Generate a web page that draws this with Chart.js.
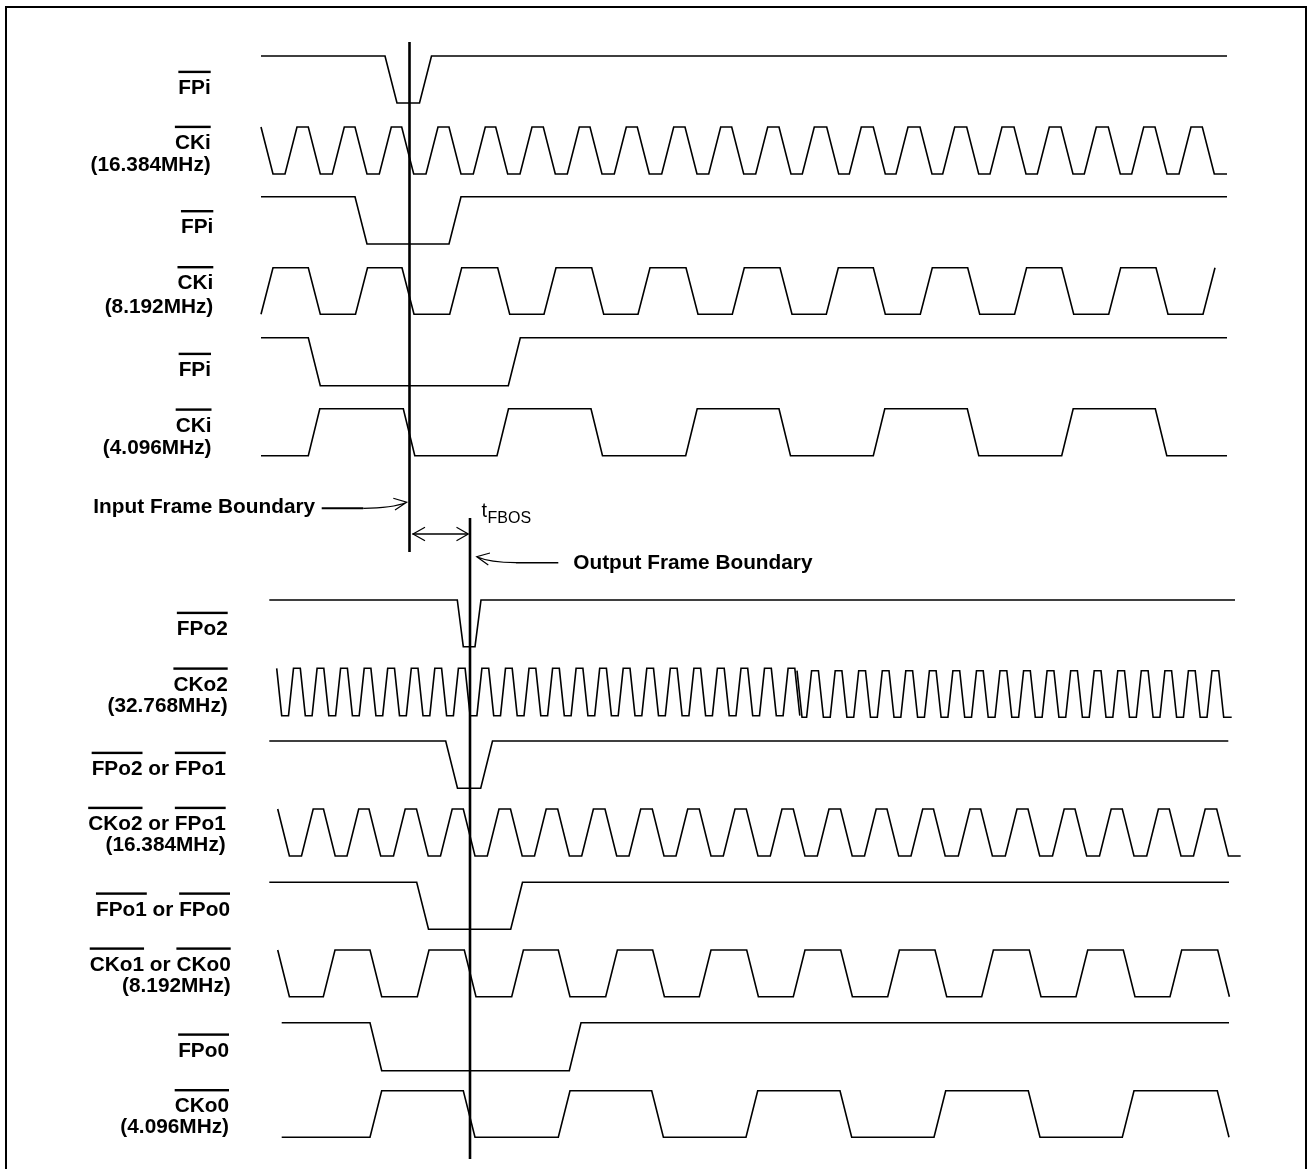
<!DOCTYPE html>
<html>
<head>
<meta charset="utf-8">
<title>Frame boundary timing</title>
<script src="https://cdn.jsdelivr.net/npm/chart.js@4.4.0/dist/chart.umd.min.js"></script>
<style>
  html, body { margin: 0; padding: 0; background: #fff; }
  #wrap { width: 1307px; height: 1169px; }
</style>
</head>
<body>
<div id="wrap"><canvas id="timing" width="1307" height="1169"></canvas></div>
<script>
// Row labels, top to bottom
const signalNames = ['FPi', 'CKi', 'FPi', 'CKi', 'FPi', 'CKi',
    'FPo2', 'CKo2', 'FPo2 or FPo1', 'CKo2 or FPo1', 'FPo1 or FPo0', 'CKo1 or CKo0', 'FPo0', 'CKo0'];
const signalRates = ['', '(16.384MHz)', '', '(8.192MHz)', '', '(4.096MHz)',
    '', '(32.768MHz)', '', '(16.384MHz)', '', '(8.192MHz)', '', '(4.096MHz)'];

// Edge start times (time axis in drawing units)
const fpi16Falls = [385];
const fpi16Rises = [419.5];
const cki16Falls = [261, 308.3, 355, 401.7, 449, 495.7, 543.3, 590, 637.3, 685, 731.7, 779, 826.7, 873.3, 920, 966.7, 1014, 1061, 1108.3, 1155, 1202.3];
const cki16Rises = [285, 332.3, 379.3, 426, 473.3, 520, 567.3, 614.3, 661.7, 708.7, 755.7, 802.3, 849.3, 896, 942.7, 990, 1037.3, 1084.3, 1131.7, 1179];
const fpi8Falls = [355];
const fpi8Rises = [449];
const cki8Falls = [308.3, 402, 497.7, 591.7, 686, 780, 873.3, 967.7, 1061.7, 1156];
const cki8Rises = [261, 355.5, 449.7, 544, 638, 732.3, 826.3, 920.3, 1014.6, 1108.7, 1203];
const fpi4Falls = [308.3];
const fpi4Rises = [508.3];
const cki4Falls = [403.3, 591, 779, 967.3, 1155.3];
const cki4Rises = [308.3, 497, 685.7, 873.3, 1061.7];

const fpo2Falls = [457.3];
const fpo2Rises = [475];
// CKo2 is drawn in two pieces in the original (joint near 797)
const cko2aFalls = [276.7, 300.3, 323.8, 347.4, 370.9, 394.5, 418, 441.6, 465.1, 488.7, 512.2, 535.8, 559.3, 582.9, 606.4, 630, 653.5, 677.1, 700.6, 724.2, 747.7, 771.3, 794.8];
const cko2aRises = [288.5, 312.1, 335.6, 359.2, 382.7, 406.3, 429.8, 453.4, 476.9, 500.5, 524, 547.6, 571.1, 594.7, 618.2, 641.8, 665.3, 688.9, 712.4, 736, 759.5, 783.1];
const cko2bFalls = [797, 818.4, 841.9, 865.5, 889, 912.6, 936.1, 959.7, 983.2, 1006.8, 1030.3, 1053.9, 1077.4, 1101, 1124.5, 1148.1, 1171.6, 1195.2, 1218.7];
const cko2bRises = [806.6, 830.2, 853.7, 877.3, 900.8, 924.4, 947.9, 971.5, 995, 1018.6, 1042.1, 1065.7, 1089.2, 1112.8, 1136.3, 1159.9, 1183.4, 1207];
const fpo21Falls = [445.7];
const fpo21Rises = [480.7];
const cko21Falls = [277.7, 323.5, 369, 416.5, 463.3, 510.5, 557.7, 605, 652.3, 699.3, 746.3, 793.3, 840.5, 887, 933.5, 980.7, 1028, 1075, 1122.3, 1169.3, 1216.7];
const cko21Rises = [301.5, 347, 393.5, 440.5, 487.3, 534.5, 581.7, 629, 676, 723.3, 770.3, 817.3, 864.5, 911, 958.3, 1005.3, 1052.5, 1099.5, 1146.7, 1193.5];
const fpo10Falls = [416.7];
const fpo10Rises = [510.7];
const cko10Falls = [277.7, 370, 464.3, 558.3, 652.7, 746.7, 840.7, 935, 1029.3, 1123.3, 1217.7];
const cko10Rises = [323.3, 417.3, 511.7, 605.7, 699.3, 793.3, 887.7, 981.7, 1076, 1170];
const fpo0Falls = [370];
const fpo0Rises = [569.3];
const cko0Falls = [463.3, 651.7, 840, 1028.3, 1217.3];
const cko0Rises = [370, 558.3, 746, 934, 1122.3];

// Frame boundaries and tFBOS
const inputBoundary = 409.5;
const outputBoundary = 470;

// Row geometry: where each trace sits and how long it runs
const rows = [
    { falls: fpi16Falls, rises: fpi16Rises, from: 261, to: 1227, start: 'H', high: 56, low: 103, slew: 12 },
    { falls: cki16Falls, rises: cki16Rises, from: 261, to: 1227, start: 'H', high: 127, low: 174, slew: 12 },
    { falls: fpi8Falls, rises: fpi8Rises, from: 261, to: 1227, start: 'H', high: 196.7, low: 244, slew: 12 },
    { falls: cki8Falls, rises: cki8Rises, from: 261, to: 1215, start: 'L', high: 267.7, low: 314.3, slew: 12 },
    { falls: fpi4Falls, rises: fpi4Rises, from: 261, to: 1227, start: 'H', high: 337.7, low: 385.7, slew: 12 },
    { falls: cki4Falls, rises: cki4Rises, from: 261, to: 1227, start: 'L', high: 408.7, low: 455.7, slew: 11.5 },
    { falls: fpo2Falls, rises: fpo2Rises, from: 269.3, to: 1235, start: 'H', high: 600, low: 646.7, slew: 6 },
    { falls: cko2aFalls, rises: cko2aRises, from: 276.7, to: 799.8, start: 'H', high: 668.3, low: 715.7, slew: 5 },
    { falls: cko2bFalls, rises: cko2bRises, from: 797, to: 1231.7, start: 'H', high: 670.7, low: 717.3, slew: 5 },
    { falls: fpo21Falls, rises: fpo21Rises, from: 269.3, to: 1228.3, start: 'H', high: 741, low: 788.3, slew: 11.8 },
    { falls: cko21Falls, rises: cko21Rises, from: 277.7, to: 1240.7, start: 'H', high: 809, low: 856, slew: 11.7 },
    { falls: fpo10Falls, rises: fpo10Rises, from: 269.3, to: 1229, start: 'H', high: 882.3, low: 929.3, slew: 11.8 },
    { falls: cko10Falls, rises: cko10Rises, from: 277.7, to: 1229, start: 'H', high: 950, low: 996.7, slew: 11.7 },
    { falls: fpo0Falls, rises: fpo0Rises, from: 281.7, to: 1229, start: 'H', high: 1022.7, low: 1070.7, slew: 11.7 },
    { falls: cko0Falls, rises: cko0Rises, from: 281.7, to: 1229, start: 'L', high: 1090.7, low: 1137.3, slew: 11.7 }
];

// Label placement: right edge, name baseline, rate baseline
const labelPos = [
    [210.7, 94], [210.7, 149, 170.7], [213.3, 233.3], [213.3, 289.3, 313], [211, 376], [211.5, 431.7, 453.7],
    [227.7, 635], [227.7, 690.7, 711.7], [225.7, 775], [225.7, 830, 850.7], [230, 915.7], [230.7, 970.7, 991.7],
    [229, 1056.7], [229, 1112.3, 1133.3]
];

const BOLD = 'bold 20.8px "Liberation Sans", Arial, sans-serif';

function wavePoints(r) {
    const edges = r.falls.map(x => [x, 'L']).concat(r.rises.map(x => [x, 'H'])).sort((a, b) => a[0] - b[0]);
    const yOf = l => (l === 'H' ? r.high : r.low);
    let lvl = r.start;
    const pts = [{ x: r.from, y: yOf(lvl) }];
    edges.forEach(([x, next]) => {
        pts.push({ x: x, y: yOf(lvl) });
        lvl = next;
        pts.push({ x: x + r.slew, y: yOf(lvl) });
    });
    const last = pts[pts.length - 1];
    if (r.to > last.x) pts.push({ x: r.to, y: yOf(lvl) });
    return pts;
}

function lineSet(pts, width) {
    return { data: pts, showLine: true, borderColor: '#000', borderWidth: width, pointRadius: 0, fill: false, tension: 0 };
}

const datasets = rows.map(r => lineSet(wavePoints(r), 1.6));
datasets.push(lineSet([{ x: inputBoundary, y: 42 }, { x: inputBoundary, y: 552 }], 2.6));
datasets.push(lineSet([{ x: outputBoundary, y: 518 }, { x: outputBoundary, y: 1159 }], 2.6));
// tFBOS double arrow
datasets.push(lineSet([{ x: inputBoundary + 3, y: 534 }, { x: outputBoundary - 2, y: 534 }], 1.5));
datasets.push(lineSet([{ x: inputBoundary + 15.5, y: 527.3 }, { x: inputBoundary + 3.5, y: 534 }, { x: inputBoundary + 15.5, y: 540.7 }], 1.2));
datasets.push(lineSet([{ x: outputBoundary - 13.5, y: 527.3 }, { x: outputBoundary - 1.7, y: 534 }, { x: outputBoundary - 13.5, y: 540.7 }], 1.2));

const annotate = {
    id: 'annotate',
    afterDraw(chart) {
        const ctx = chart.ctx;
        const X = v => chart.scales.x.getPixelForValue(v);
        const Y = v => chart.scales.y.getPixelForValue(v);
        ctx.save();
        ctx.strokeStyle = '#000';
        ctx.fillStyle = '#000';

        // page frame
        ctx.lineWidth = 2;
        ctx.beginPath();
        ctx.moveTo(X(6), Y(1169));
        ctx.lineTo(X(6), Y(7));
        ctx.lineTo(X(1306), Y(7));
        ctx.lineTo(X(1306), Y(1169));
        ctx.stroke();

        // row labels
        ctx.textBaseline = 'alphabetic';
        ctx.textAlign = 'left';
        ctx.font = BOLD;
        signalNames.forEach((name, i) => {
            const [xr, yb, yr] = labelPos[i];
            const parts = name.split(' or ');
            let x = X(xr) - ctx.measureText(name).width;
            parts.forEach((p, k) => {
                const w = ctx.measureText(p).width;
                ctx.fillText(p, x, Y(yb));
                ctx.fillRect(x, Y(yb) - 23.3, w, 2.4);
                x += w;
                if (k < parts.length - 1) {
                    ctx.fillText(' or ', x, Y(yb));
                    x += ctx.measureText(' or ').width;
                }
            });
            if (signalRates[i]) {
                ctx.fillText(signalRates[i], X(xr) - ctx.measureText(signalRates[i]).width, Y(yr));
            }
        });

        // boundary call-outs
        ctx.fillText('Input Frame Boundary', X(93.3), Y(513.3));
        ctx.fillText('Output Frame Boundary', X(573.3), Y(569.3));

        ctx.lineWidth = 2;
        ctx.beginPath();
        ctx.moveTo(X(321.7), Y(508.3));
        ctx.lineTo(X(363.3), Y(508.3));
        ctx.stroke();
        ctx.lineWidth = 1.2;
        ctx.beginPath();
        ctx.moveTo(X(363.3), Y(508.3));
        ctx.quadraticCurveTo(X(392), Y(508.3), X(406.7), Y(502.3));
        ctx.moveTo(X(393.3), Y(498.3));
        ctx.lineTo(X(406.7), Y(502.3));
        ctx.lineTo(X(395), Y(510));
        ctx.stroke();

        ctx.lineWidth = 1.6;
        ctx.beginPath();
        ctx.moveTo(X(558.3), Y(562.7));
        ctx.lineTo(X(516), Y(562.7));
        ctx.stroke();
        ctx.lineWidth = 1.2;
        ctx.beginPath();
        ctx.moveTo(X(516), Y(562.7));
        ctx.quadraticCurveTo(X(490), Y(562.5), X(476.7), Y(556.7));
        ctx.moveTo(X(490), Y(553));
        ctx.lineTo(X(476.7), Y(556.7));
        ctx.lineTo(X(488.3), Y(565));
        ctx.stroke();

        // tFBOS
        ctx.font = '20px "Liberation Sans", Arial, sans-serif';
        ctx.fillText('t', X(481.5), Y(517));
        ctx.font = '16px "Liberation Sans", Arial, sans-serif';
        ctx.fillText('FBOS', X(487.5), Y(522.5));
        ctx.restore();
    }
};

new Chart(document.getElementById('timing'), {
    type: 'scatter',
    data: { datasets },
    options: {
        responsive: false,
        animation: false,
        events: [],
        layout: { padding: 0 },
        plugins: { legend: { display: false }, tooltip: { enabled: false } },
        scales: {
            x: { type: 'linear', min: 0, max: 1307, display: false },
            y: { type: 'linear', min: 0, max: 1169, reverse: true, display: false }
        }
    },
    plugins: [annotate]
});
</script>
</body>
</html>
